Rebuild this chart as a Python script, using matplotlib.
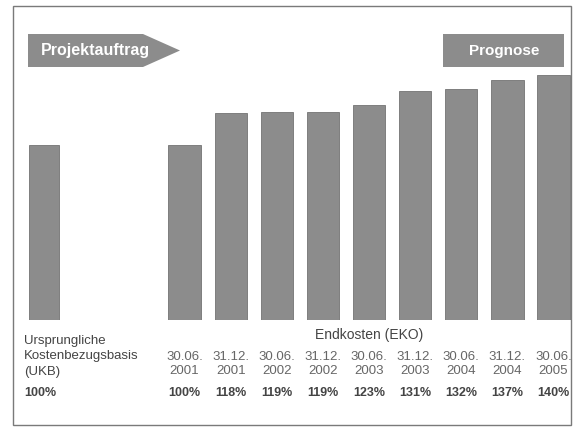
import matplotlib
matplotlib.use('Agg')
from matplotlib import pyplot as plt
from matplotlib import transforms
from matplotlib.patches import Polygon, Rectangle

plt.rcParams['font.family'] = ['Liberation Sans', 'DejaVu Sans']

# Data
ukb_value = 100
ukb_lines = ['Ursprungliche', 'Kostenbezugsbasis', '(UKB)']
ukb_label = '100%'

stichtage = ['30.06.', '31.12.', '30.06.', '31.12.', '30.06.', '31.12.', '30.06.', '31.12.', '30.06.']
jahre = ['2001', '2001', '2002', '2002', '2003', '2003', '2004', '2004', '2005']
eko_values = [100, 118, 119, 119, 123, 131, 132, 137, 140]
eko_labels = ['100%', '118%', '119%', '119%', '123%', '131%', '132%', '137%', '140%']

W, H = 575, 428
BAR = '#8c8c8c'
EDGE = '#737373'

fig = plt.figure(figsize=(W / 100, H / 100), dpi=100)
fig.patch.set_facecolor('white')


def fx(px):
    return px / W


def fy(py):
    return 1 - py / H


# plotting area: bars sit on pixel row 320, one slot is ~46 px
ax = fig.add_axes([fx(13), fy(320), fx(558), 314 / H])
ax.set_xlim(-3.72, 8.38)
ax.set_ylim(0, 314 / 1.75)
ax.axis('off')

xs = list(range(len(eko_values)))
ax.bar([-3.05], [ukb_value], width=0.66, color=BAR, edgecolor=EDGE, linewidth=0.6)
ax.bar(xs, eko_values, width=0.7, color=BAR, edgecolor=EDGE, linewidth=0.6)

# outer frame
fig.add_artist(Rectangle((fx(13), fy(425)), fx(558), (425 - 6) / H, transform=fig.transFigure,
                         fill=False, edgecolor='#7a7a7a', linewidth=1.0))

# banners
arrow = [(28, 34), (143, 34), (180, 50.5), (143, 67), (28, 67)]
fig.add_artist(Polygon([(fx(x), fy(y)) for x, y in arrow], closed=True, transform=fig.transFigure,
                       facecolor=BAR, edgecolor='none'))
fig.text(fx(95), fy(51), 'Projektauftrag', color='white', fontsize=11.5, fontweight='bold',
         ha='center', va='center')
fig.add_artist(Rectangle((fx(443), fy(67)), fx(121), 33 / H, transform=fig.transFigure,
                         facecolor=BAR, edgecolor='none'))
fig.text(fx(504), fy(51), 'Prognose', color='white', fontsize=11, fontweight='bold',
         ha='center', va='center')

# labels below the bars
trans = transforms.blended_transform_factory(ax.transData, fig.transFigure)
for i, line in enumerate(ukb_lines):
    fig.text(fx(24), fy(341 + 15.5 * i), line, color='#444444', fontsize=9.5, ha='left', va='center')
fig.text(fx(24), fy(393), ukb_label, color='#444444', fontsize=9, fontweight='bold',
         ha='left', va='center')

ax.text(4, fy(335), 'Endkosten (EKO)', transform=trans, color='#444444', fontsize=10,
        ha='center', va='center')
for x, d, j, p in zip(xs, stichtage, jahre, eko_labels):
    ax.text(x, fy(357), d, transform=trans, color='#666666', fontsize=9.5, ha='center', va='center')
    ax.text(x, fy(371), j, transform=trans, color='#666666', fontsize=9.5, ha='center', va='center')
    ax.text(x, fy(393), p, transform=trans, color='#444444', fontsize=9, fontweight='bold',
            ha='center', va='center')

fig.savefig('out.png', dpi=100, facecolor='white')
